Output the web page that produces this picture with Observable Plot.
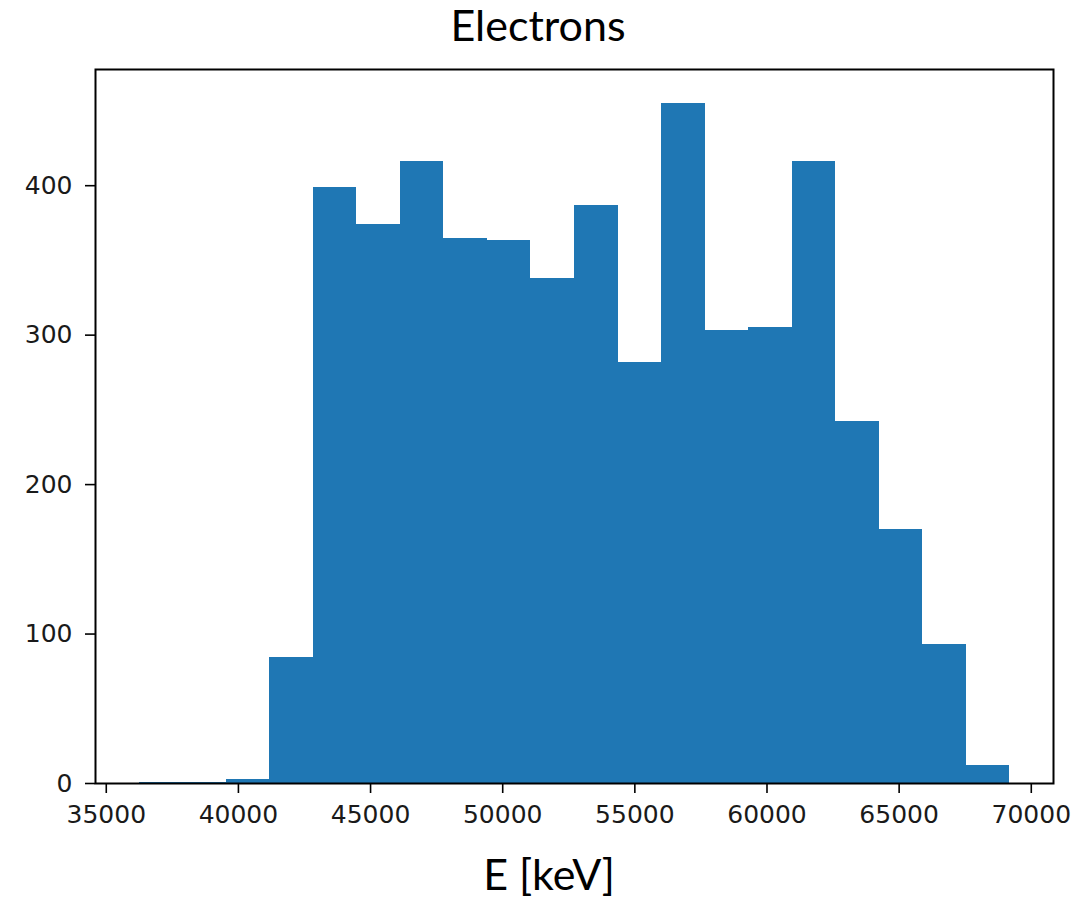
<!DOCTYPE html>
<html>
<head>
<meta charset="utf-8">
<script src="https://cdn.jsdelivr.net/npm/d3@7"></script>
<script src="https://cdn.jsdelivr.net/npm/@observablehq/plot@0.6"></script>
<style>
  html, body { margin: 0; padding: 0; background: #fff; }
  #wrap { position: relative; width: 1091px; height: 898px; overflow: hidden; }
  .title, .xlabel {
    position: absolute; text-align: center; white-space: nowrap;
    font-family: Lato, "Open Sans", sans-serif; color: #000;
    font-size: 43px;
  }
  .title { top: 0; left: 438px; width: 200px; line-height: 50px; }
  .xlabel { top: 851px; left: 449px; width: 200px; line-height: 46px; }
  #chart { position: absolute; left: 0; top: 58px; }
</style>
</head>
<body>
<div id="wrap">
  <div class="title">Electrons</div>
  <div id="chart"></div>
  <div class="xlabel">E [keV]</div>
</div>
<script>
// Histogram bin edges (keV) and counts per bin
const binEdges = [36240, 37888, 39535, 41183, 42831, 44478, 46126, 47773, 49421, 51069,
                  52716, 54364, 56012, 57659, 59307, 60954, 62602, 64250, 65897, 67545, 69193];
const counts = [1, 1, 3, 84, 399, 374, 416, 365, 363, 338,
                387, 282, 455, 303, 305, 416, 242, 170, 93, 12];
const xTicks = [35000, 40000, 45000, 50000, 55000, 60000, 65000, 70000];
const yTicks = [0, 100, 200, 300, 400];

const bins = counts.map((c, i) => ({x1: binEdges[i], x2: binEdges[i + 1], count: c}));

// 5% padding around the data, as in a default matplotlib axes
const lo = binEdges[0], hi = binEdges[binEdges.length - 1];
const pad = 0.05 * (hi - lo);
const yMax = 1.05 * d3.max(counts);

const fmt = d3.format("d");

const chart = Plot.plot({
  width: 1091,
  height: 790,
  marginLeft: 95,
  marginRight: 38,
  marginTop: 11,
  marginBottom: 65,
  style: {fontFamily: "'DejaVu Sans', sans-serif", color: "#1a1a1a", background: "#fff"},
  x: {domain: [lo - pad, hi + pad]},
  y: {domain: [0, yMax]},
  marks: [
    Plot.rectY(bins, {x1: "x1", x2: "x2", y1: 0, y2: "count", fill: "#1f77b4", inset: 0,
                      shapeRendering: "crispEdges"}),
    Plot.axisX({ticks: xTicks, tickFormat: fmt, tickSize: 10, tickPadding: 12, fontSize: 25,
                strokeWidth: 1.6, stroke: "#000", label: null}),
    Plot.axisY({ticks: yTicks, tickFormat: fmt, tickSize: 10, tickPadding: 13, fontSize: 25,
                strokeWidth: 1.6, stroke: "#000", label: null}),
    Plot.frame({stroke: "#000", strokeWidth: 2})
  ]
});
document.getElementById("chart").appendChild(chart);
</script>
</body>
</html>
